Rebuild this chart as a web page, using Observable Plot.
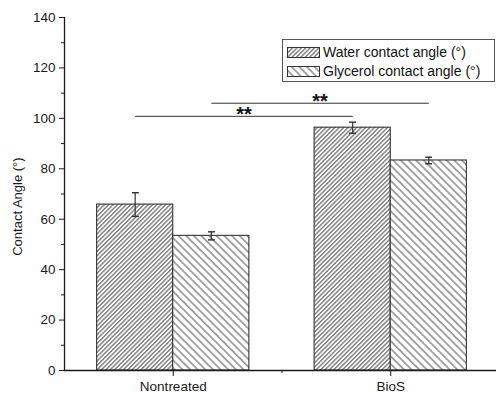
<!DOCTYPE html>
<html>
<head>
<meta charset="utf-8">
<script src="https://cdn.jsdelivr.net/npm/d3@7"></script>
<script src="https://cdn.jsdelivr.net/npm/@observablehq/plot@0.6"></script>
<style>
  body { margin: 0; background: #fff; }
  #wrap { position: relative; width: 496px; height: 393px; font-family: "Liberation Sans", Arial, sans-serif; }
  #legend { position: absolute; left: 282px; top: 39px; width: 211px; height: 41px; border: 1px solid #555; background: #fff; font-size: 14px; color: #111; }
  #legend .row { position: absolute; left: 4px; display: flex; align-items: center; white-space: nowrap; }
  #legend svg { margin-right: 3px; }
</style>
</head>
<body>
<div id="wrap"></div>
<script>
// ---- data ----
const categories = ["Nontreated", "BioS"];
const seriesNames = ["Water contact angle (°)", "Glycerol contact angle (°)"];
const waterMean = [65.8, 96.3];
const waterErr = [4.7, 2.2];
const glycerolMean = [53.4, 83.3];
const glycerolErr = [1.6, 1.3];
const yMajorTicks = [0, 20, 40, 60, 80, 100, 120, 140];
const yMinorTicks = [10, 30, 50, 70, 90, 110, 130];
// significance brackets: series index, height, label
const sigSeries = [0, 1];
const sigHeight = [100.8, 106];
const sigLabel = ["**", "**"];

// ---- layout ----
const barW = 0.35;
const patternIds = ["hatchWater", "hatchGlycerol"];
const ink = "#1a1a1a";

const rows = [];
categories.forEach((c, i) => {
  rows.push({cat: c, i, s: 0, mean: waterMean[i], err: waterErr[i]});
  rows.push({cat: c, i, s: 1, mean: glycerolMean[i], err: glycerolErr[i]});
});
const x1 = d => d.i + (d.s === 0 ? -barW : 0);
const x2 = d => d.i + (d.s === 0 ? 0 : barW);
const xc = d => d.i + (d.s - 0.5) * barW;

const sig = sigSeries.map((s, k) => ({
  xa: 0 + (s - 0.5) * barW,
  xb: 1 + (s - 0.5) * barW,
  y: sigHeight[k],
  label: sigLabel[k]
}));

const defs = () => {
  const ns = "http://www.w3.org/2000/svg";
  const g = document.createElementNS(ns, "defs");
  g.innerHTML = `
    <pattern id="hatchWater" patternUnits="userSpaceOnUse" width="3.1" height="10" patternTransform="rotate(45)">
      <rect width="3.1" height="10" fill="#fff"/>
      <line x1="1.5" y1="0" x2="1.5" y2="10" stroke="#333" stroke-width="0.9"/>
    </pattern>
    <pattern id="hatchGlycerol" patternUnits="userSpaceOnUse" width="5.4" height="10" patternTransform="rotate(-45)">
      <rect width="5.4" height="10" fill="#fff"/>
      <line x1="2.7" y1="0" x2="2.7" y2="10" stroke="#333" stroke-width="0.9"/>
    </pattern>`;
  return g;
};

const chart = Plot.plot({
  width: 496,
  height: 393,
  marginLeft: 64,
  marginRight: -3,
  marginTop: 17,
  marginBottom: 23,
  style: {fontFamily: "Liberation Sans, Arial, sans-serif", fontSize: "13px", color: ink, background: "transparent"},
  x: {type: "linear", domain: [-0.5, 1.5], axis: null},
  y: {domain: [0, 140], axis: null},
  marks: [
    defs,
    Plot.rectY(rows.filter(d => d.s === 0), {x1, x2, y1: 0, y2: "mean", fill: `url(#${patternIds[0]})`, stroke: "#333", strokeWidth: 1.1}),
    Plot.rectY(rows.filter(d => d.s === 1), {x1, x2, y1: 0, y2: "mean", fill: `url(#${patternIds[1]})`, stroke: "#333", strokeWidth: 1.1}),
    Plot.link(rows, {x1: xc, x2: xc, y1: d => d.mean - d.err, y2: d => d.mean + d.err, stroke: "#333", strokeWidth: 1.2, marker: "tick"}),
    Plot.link(sig, {x1: "xa", x2: "xb", y1: "y", y2: "y", stroke: "#333", strokeWidth: 1}),
    Plot.text(sig, {x: d => (d.xa + d.xb) / 2, y: "y", text: "label", fontSize: 20, fontWeight: "bold", lineAnchor: "bottom", dy: 5, fill: "#111"}),
    // axes
    Plot.ruleX([-0.5], {y1: 0, y2: 140, stroke: ink, strokeWidth: 1.3}),
    Plot.ruleY([0], {stroke: ink, strokeWidth: 1.3}),
    Plot.axisY(yMajorTicks, {tickSize: 5, tickPadding: 4, stroke: ink, fill: ink, fontSize: 13.5, label: null}),
    Plot.axisY(yMinorTicks, {tickSize: 3, text: null, stroke: ink, label: null}),
    Plot.axisX([0, 1], {tickSize: 6, tickPadding: 5, tickFormat: i => categories[i], stroke: ink, fill: ink, fontSize: 13.5, label: null}),
    Plot.axisX([0.5], {tickSize: 3, text: null, stroke: ink, label: null}),
    Plot.text(["Contact Angle (°)"], {frameAnchor: "left", dx: -47, y: 65, textAnchor: "middle", rotate: -90, fontSize: 13, fill: ink})
  ]
});
document.getElementById("wrap").appendChild(chart);

// legend overlay
const legend = document.createElement("div");
legend.id = "legend";
seriesNames.forEach((name, k) => {
  const r = document.createElement("div");
  r.className = "row";
  r.style.top = (k === 0 ? 4 : 23) + "px";
  r.innerHTML = `<svg width="33" height="11"><rect x="0.5" y="0.5" width="32" height="10" fill="url(#${patternIds[k]})" stroke="#333" stroke-width="1"/></svg><span>${name}</span>`;
  legend.appendChild(r);
});
document.getElementById("wrap").appendChild(legend);
</script>
</body>
</html>
